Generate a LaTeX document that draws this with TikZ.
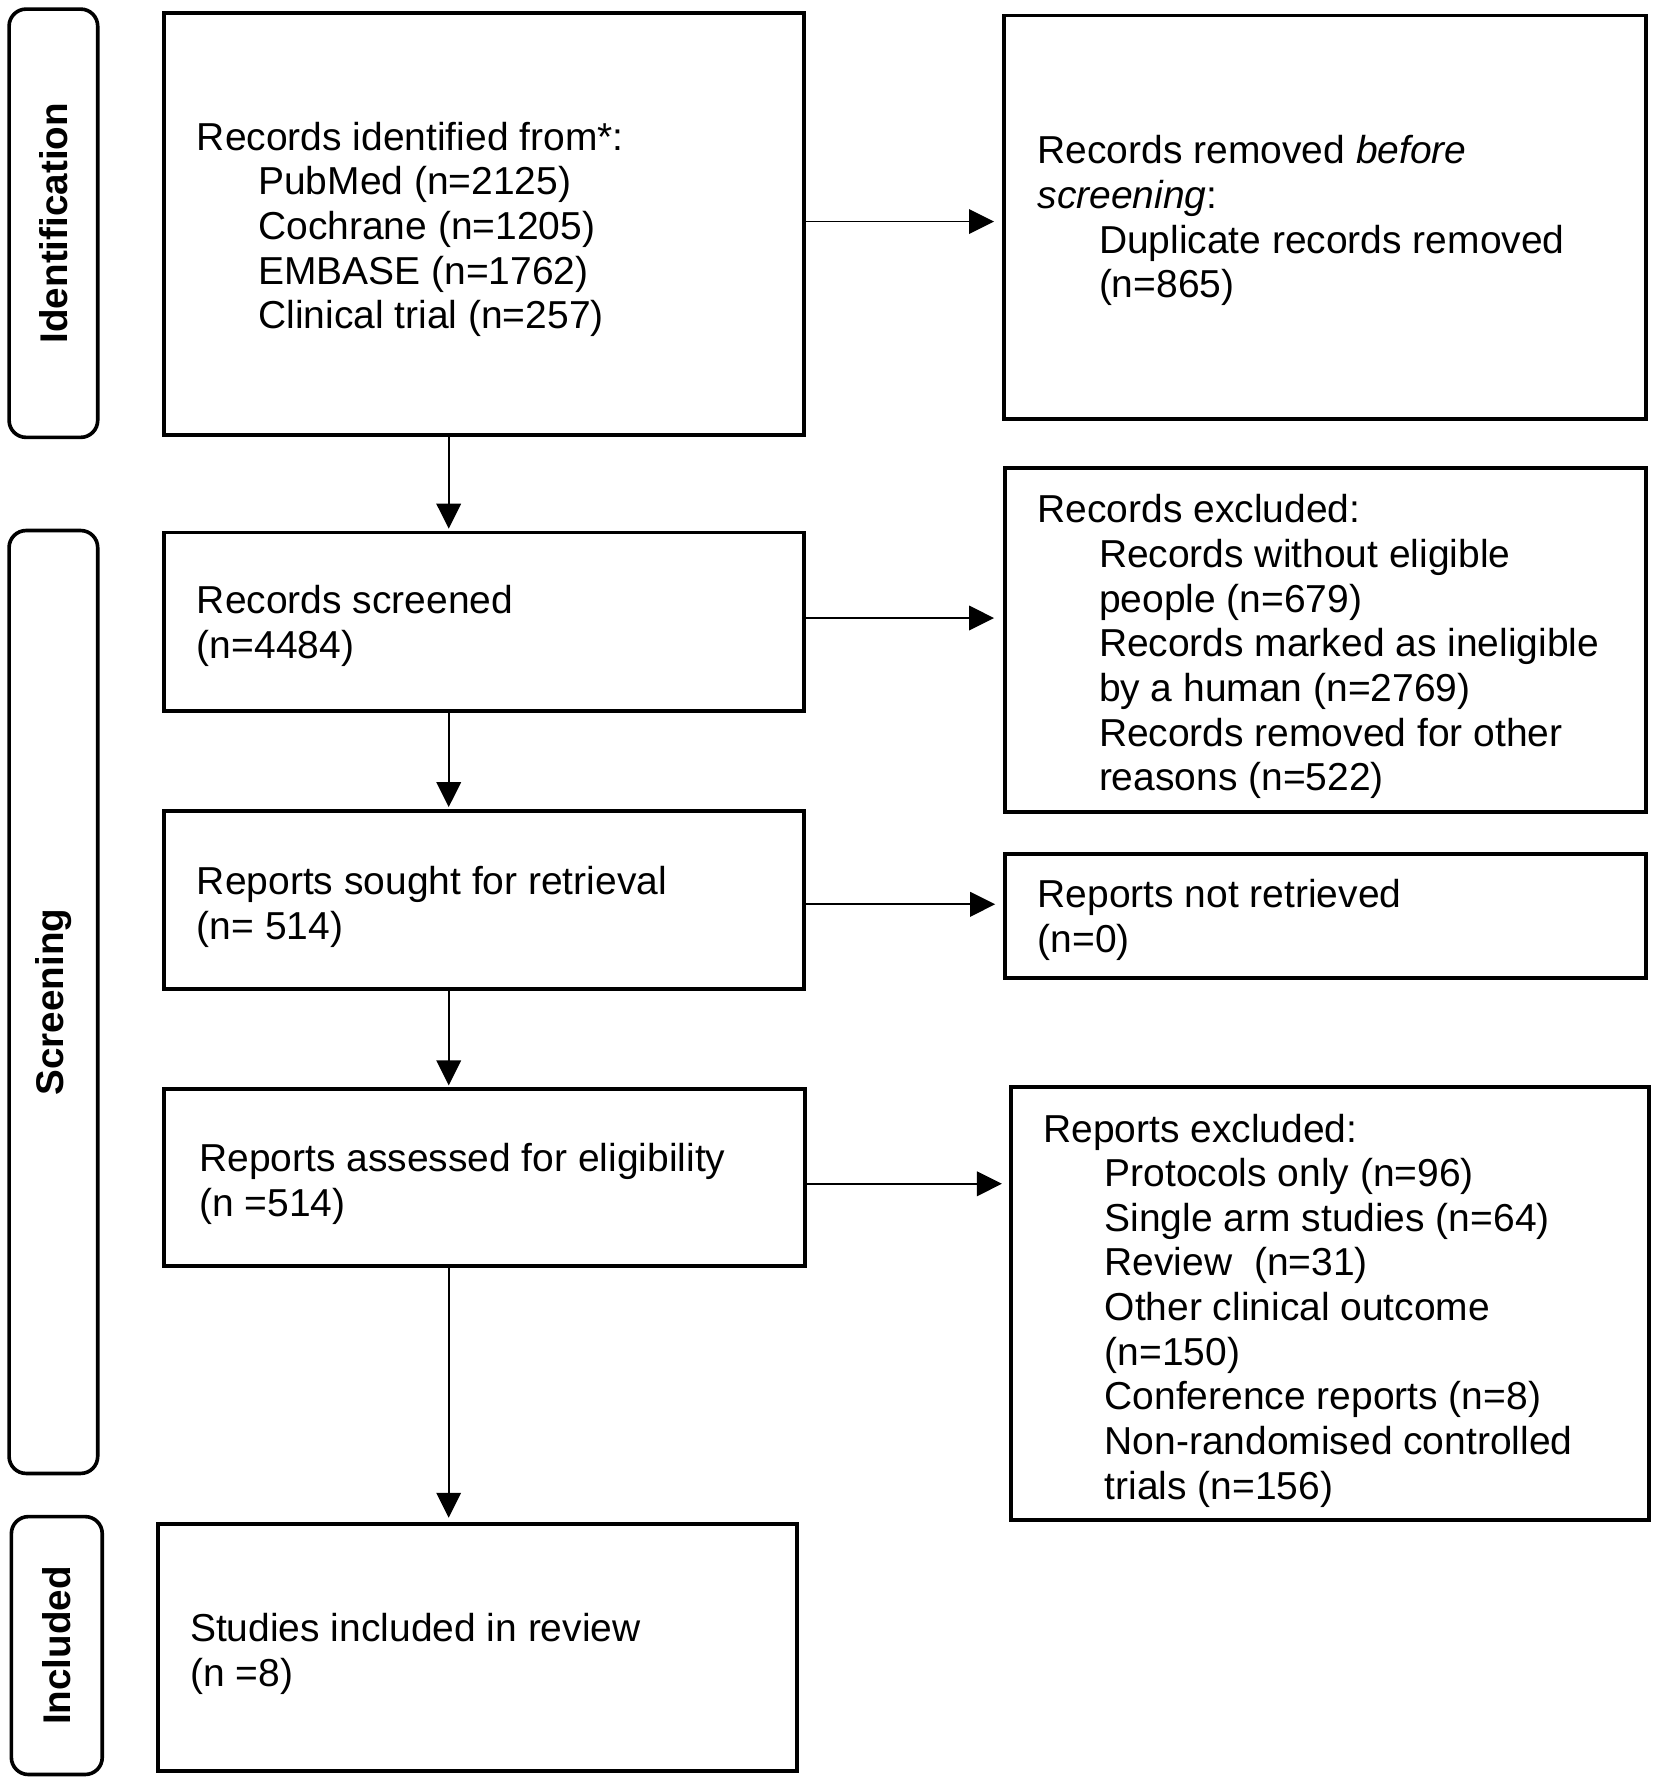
\documentclass[tikz,border=0pt]{standalone}
\usepackage{fontspec}
\setmainfont{Liberation Sans}
\usetikzlibrary{arrows.meta,calc}
\newcommand{\ind}{\hspace*{27pt}}
\begin{document}
\begin{tikzpicture}[x=0.5pt,y=-0.5pt,
  box/.style={draw, line width=1.7pt, inner sep=0pt, anchor=north west},
  side/.style={draw, line width=1.6pt, rounded corners=7.5pt, inner sep=0pt, rotate=90,
    font=\bfseries\fontsize{17pt}{19pt}\selectfont},
  txt/.style={anchor=north west, align=left, inner sep=0pt,
    font=\fontsize{17.15pt}{19.65pt}\selectfont},
  arr/.style={line width=0.8pt, -{Triangle[length=11pt,width=10.8pt]}}]
\useasboundingbox[fill=white] (0,0) rectangle (1456,1569.5);

% side labels
\node[side, minimum width=188.5pt, minimum height=39pt] (s1) at (47,196.5) {Identification};
\node[side, minimum width=415pt, minimum height=39pt] (s2) at (47,882) {Screening};
\node[side, minimum width=113.5pt, minimum height=40pt] (s3) at (50,1448.5) {Included};

% left boxes
\node[box, minimum width=281.5pt, minimum height=185.5pt] (b1) at (143,10) {};
\node[box, minimum width=281.5pt, minimum height=78.5pt] (b2) at (143,467) {};
\node[box, minimum width=281.5pt, minimum height=78.5pt] (b3) at (143,712) {};
\node[box, minimum width=282pt, minimum height=78pt] (b4) at (143,957) {};
\node[box, minimum width=281.5pt, minimum height=108.5pt] (b5) at (137,1340) {};

% right boxes
\node[box, minimum width=282.5pt, minimum height=177.5pt] (r1) at (882,12) {};
\node[box, minimum width=282pt, minimum height=151.5pt] (r2) at (883,410) {};
\node[box, minimum width=282pt, minimum height=54.5pt] (r3) at (883,750) {};
\node[box, minimum width=281pt, minimum height=190.5pt] (r4) at (888,955) {};

% texts
\node[txt] (t1) at (173,107) {Records identified from*:\\ \ind PubMed (n=2125)\\ \ind Cochrane (n=1205)\\ \ind EMBASE (n=1762)\\ \ind Clinical trial (n=257)};
\node[txt] (tr1) at (913,119) {Records removed \textit{before}\\ \textit{screening}:\\ \ind Duplicate records removed\\ \ind (n=865)};
\node[txt] (t2) at (173,515) {Records screened\\ (n=4484)};
\node[txt] (tr2) at (913,435) {Records excluded:\\ \ind Records without eligible\\ \ind people (n=679)\\ \ind Records marked as ineligible\\ \ind by a human (n=2769)\\ \ind Records removed for other\\ \ind reasons (n=522)};
\node[txt] (t3) at (173,762) {Reports sought for retrieval\\ (n= 514)};
\node[txt] (tr3) at (913,774) {Reports not retrieved\\ (n=0)};
\node[txt] (t4) at (175,1006) {Reports assessed for eligibility\\ (n =514)};
\node[txt] (tr4) at (918,980) {Reports excluded:\\ \ind Protocols only (n=96)\\ \ind Single arm studies (n=64)\\ \ind Review\ \ (n=31)\\ \ind Other clinical outcome\\ \ind (n=150)\\ \ind Conference reports (n=8)\\ \ind Non-randomised controlled\\ \ind trials (n=156)};
\node[txt] (t5) at (167,1420) {Studies included in review\\ (n =8)};

% arrows
\coordinate (ax) at (395,0);
\draw[arr, shorten >=0.8pt] (b1.south -| ax) -- (b2.north -| ax);
\draw[arr, shorten >=0.8pt] (b2.south -| ax) -- (b3.north -| ax);
\draw[arr, shorten >=0.8pt] (b3.south -| ax) -- (b4.north -| ax);
\draw[arr, shorten >=2pt] (b4.south -| ax) -- (b5.north -| ax);

\coordinate (h1) at (0,195);
\coordinate (h2) at (0,544);
\coordinate (h3) at (0,796);
\coordinate (h4) at (0,1042);
\draw[arr, shorten >=3.5pt] (b1.east |- h1) -- (r1.west |- h1);
\draw[arr, shorten >=4pt] (b2.east |- h2) -- (r2.west |- h2);
\draw[arr, shorten >=3.5pt] (b3.east |- h3) -- (r3.west |- h3);
\draw[arr, shorten >=3pt] (b4.east |- h4) -- (r4.west |- h4);
\end{tikzpicture}
\end{document}
